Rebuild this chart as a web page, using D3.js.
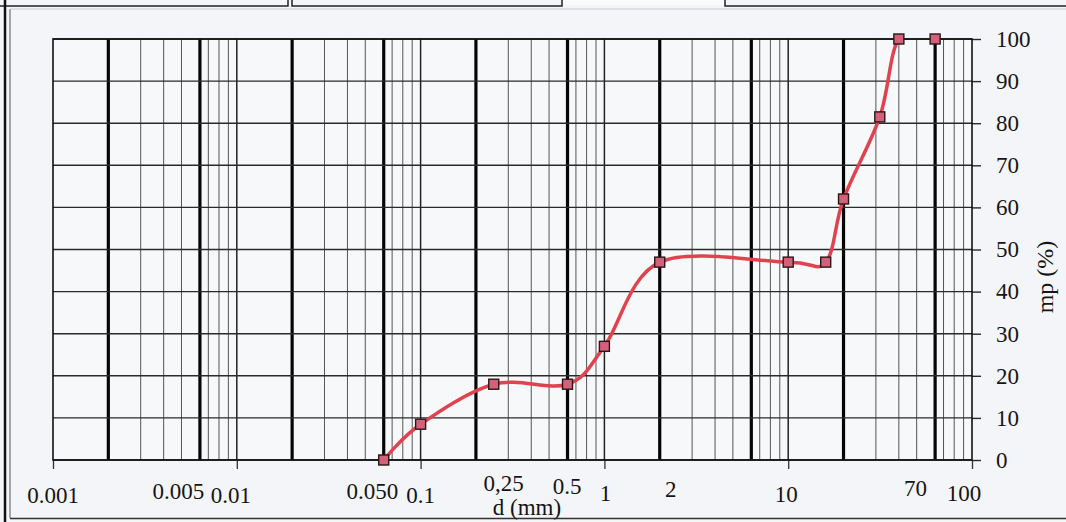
<!DOCTYPE html>
<html>
<head>
<meta charset="utf-8">
<script src="https://cdn.jsdelivr.net/npm/d3@7"></script>
<style>
  html, body { margin: 0; padding: 0; background: #f4f5f8; }
  svg { display: block; }
  text { font-family: "Liberation Serif", "Times New Roman", serif; fill: #151515; }
</style>
</head>
<body>
<svg id="chart" width="1066" height="522"></svg>
<script>
// ---------- data ----------
const diameters = [0.063, 0.1, 0.25, 0.63, 1, 2, 10, 16, 20, 31.5, 40, 63];   // d (mm)
const passing   = [0, 8.5, 18, 18, 27, 47, 47, 47, 62, 81.5, 100, 100];       // mp (%)
const xTickValues = [0.001, 0.005, 0.01, 0.05, 0.1, 0.25, 0.5, 1, 2, 10, 70, 100];
const xTickLabels = ["0.001", "0.005", "0.01", "0.050", "0.1", "0,25", "0.5", "1", "2", "10", "70", "100"];
const yTickValues = [0, 10, 20, 30, 40, 50, 60, 70, 80, 90, 100];
const gridMultipliers = [1, 2, 3, 4, 5, 6.3, 7, 8, 9];     // per decade
const boldMultipliers = [2, 6.3];                           // boundary lines
const decades = [-3, -2, -1, 0, 1];
const xTitle = "d (mm)";
const yTitle = "mp (%)";

// ---------- layout ----------
const labelNudge = [ // [dx, baseline y]
  [0, 503], [-3, 499], [-6, 503], [7, 499], [0, 503], [10, 491],
  [18, 494], [1, 501], [11, 497], [-2, 502], [-28, 496], [-8, 501]
];

const svg = d3.select("#chart");
const x = d3.scaleLog().domain([0.001, 100]).range([53, 972]);
const y = d3.scaleLinear().domain([0, 100]).range([460, 39]);

svg.append("defs").append("clipPath").attr("id", "plotClip")
  .append("rect").attr("x", x(0.001)).attr("y", y(100) + 1)
  .attr("width", x(100) - x(0.001)).attr("height", y(0) - y(100) + 12);

// top table remnants
const topG = svg.append("g").attr("fill", "none").attr("stroke", "#222").attr("stroke-width", 1.5);
topG.append("rect").attr("x", -5).attr("y", -5).attr("width", 293).attr("height", 11);
topG.append("rect").attr("x", 292).attr("y", -5).attr("width", 270).attr("height", 11);
topG.append("rect").attr("x", 725).attr("y", -5).attr("width", 350).attr("height", 11);
svg.append("rect").attr("x", 563).attr("y", 0).attr("width", 161).attr("height", 5).attr("fill", "#fbfbfc");

// outer frame
svg.append("line").attr("x1", 5).attr("x2", 5).attr("y1", 0).attr("y2", 522).attr("stroke", "#111").attr("stroke-width", 2.5);
svg.append("line").attr("x1", 10).attr("x2", 10).attr("y1", 9).attr("y2", 518).attr("stroke", "#555").attr("stroke-width", 1);
svg.append("line").attr("x1", 10).attr("x2", 1066).attr("y1", 9).attr("y2", 9).attr("stroke", "#c9cace").attr("stroke-width", 1);
svg.append("line").attr("x1", 10).attr("x2", 1066).attr("y1", 518.5).attr("y2", 518.5).attr("stroke", "#333").attr("stroke-width", 1.5);

// plot background
svg.append("rect").attr("x", x(0.001)).attr("y", y(100)).attr("width", x(100) - x(0.001))
  .attr("height", y(0) - y(100)).attr("fill", "#f7f8fa");

// vertical grid lines
const vLines = [];
decades.forEach(dc => gridMultipliers.forEach(m => {
  const v = m * Math.pow(10, dc);
  if (v > 0.001 && v < 100) vLines.push({ v, bold: boldMultipliers.includes(m), decade: m === 1 });
}));
svg.append("g").selectAll("line").data(vLines).join("line")
  .attr("x1", d => x(d.v)).attr("x2", d => x(d.v))
  .attr("y1", y(100)).attr("y2", y(0))
  .attr("stroke", d => d.bold ? "#050505" : (d.decade ? "#222" : "#555"))
  .attr("stroke-width", d => d.bold ? 3.2 : (d.decade ? 1.5 : 1));

// horizontal grid lines + right axis
const yAxis = d3.axisRight(y).tickValues(yTickValues).tickSize(9).tickPadding(15).tickFormat(d3.format("d"));
const yg = svg.append("g").attr("transform", `translate(${x(100)},0)`).call(yAxis);
yg.select(".domain").remove();
yg.selectAll(".tick line").attr("stroke", "#2a2a2a").attr("stroke-width", 1.4);
yg.selectAll(".tick text").attr("font-size", 23).attr("font-family", "Liberation Serif").attr("fill", "#151515");
svg.append("g").selectAll("line").data(yTickValues).join("line")
  .attr("x1", x(0.001)).attr("x2", x(100))
  .attr("y1", d => y(d)).attr("y2", d => y(d))
  .attr("stroke", "#2a2a2a").attr("stroke-width", 1.4);

// bottom ticks at decades
const xAxis = d3.axisBottom(x).tickValues(decades.map(dc => Math.pow(10, dc)).concat([100])).tickSize(9).tickFormat("");
const xg = svg.append("g").attr("transform", `translate(0,${y(0)})`).call(xAxis);
xg.select(".domain").remove();
xg.selectAll(".tick line").attr("stroke", "#333").attr("stroke-width", 1.3);

// x tick labels
svg.append("g").selectAll("text").data(xTickValues).join("text")
  .attr("x", (d, i) => x(d) + labelNudge[i][0])
  .attr("y", (d, i) => labelNudge[i][1])
  .attr("text-anchor", "middle").attr("font-size", 23)
  .text((d, i) => xTickLabels[i]);

// axis titles
svg.append("text").attr("x", 527).attr("y", 515).attr("text-anchor", "middle").attr("font-size", 23).text(xTitle);
svg.append("text").attr("transform", "translate(1053,277) rotate(-90)").attr("text-anchor", "middle")
  .attr("font-size", 24).text(yTitle);

// curve
const pts = diameters.map((d, i) => [d, passing[i]]);
const line = d3.line().x(d => x(d[0])).y(d => y(d[1])).curve(d3.curveCardinal.tension(0));
svg.append("path").datum(pts).attr("d", line).attr("fill", "none")
  .attr("clip-path", "url(#plotClip)")
  .attr("stroke", "#e0434f").attr("stroke-width", 3.5).attr("stroke-linejoin", "round");

// plot border (over the curve, under the markers)
svg.append("rect").attr("x", x(0.001)).attr("y", y(100)).attr("width", x(100) - x(0.001))
  .attr("height", y(0) - y(100)).attr("fill", "none").attr("stroke", "#111").attr("stroke-width", 1.6);

// markers
const ms = 10;
svg.append("g").selectAll("rect").data(pts).join("rect")
  .attr("x", d => x(d[0]) - ms / 2).attr("y", d => y(d[1]) - ms / 2)
  .attr("width", ms).attr("height", ms)
  .attr("fill", "#d4607a").attr("stroke", "#2a1818").attr("stroke-width", 1.4);
</script>
</body>
</html>
